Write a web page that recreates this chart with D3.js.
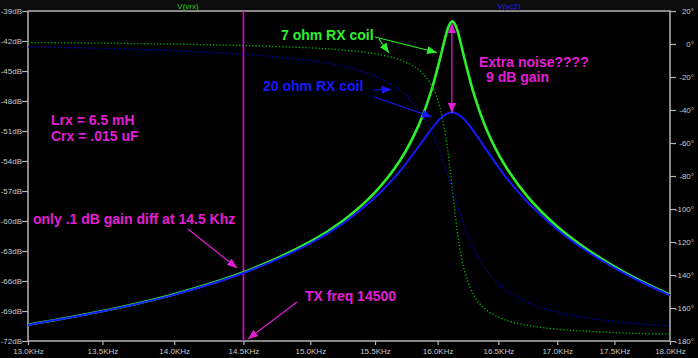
<!DOCTYPE html>
<html>
<head>
<meta charset="utf-8">
<script src="https://cdn.jsdelivr.net/npm/d3@7"></script>
<style>
  html, body { margin: 0; padding: 0; background: #000; }
  svg { display: block; }
</style>
</head>
<body>
<svg id="chart" width="698" height="358"></svg>
<script>
// ---- data ----
const freqs = [13000,13500,14000,14500,15000,15250,15500,15700,15850,15950,16020,16070,16095,16120,16145,16170,16220,16300,16400,16550,16750,17000,17250,17500,17750,18000];
const mag7  = [-70.38,-69.01,-67.32,-65.13,-62.07,-59.97,-57.13,-53.90,-50.34,-46.91,-43.73,-41.28,-40.38,-40.04,-40.41,-41.33,-43.80,-47.42,-50.79,-54.33,-57.61,-60.54,-62.76,-64.55,-66.06,-67.36];
const mag20 = [-70.39,-69.03,-67.36,-65.20,-62.24,-60.24,-57.66,-54.97,-52.50,-50.79,-49.77,-49.31,-49.19,-49.16,-49.21,-49.36,-49.88,-51.11,-52.89,-55.41,-58.16,-60.84,-62.95,-64.68,-66.15,-67.43];
const phase7  = [0.89,0.48,-0.08,-0.91,-2.36,-3.66,-5.96,-9.67,-15.79,-24.96,-38.88,-58.08,-72.09,-88.36,-104.61,-118.58,-137.68,-152.80,-161.25,-167.02,-170.58,-172.81,-174.08,-174.91,-175.50,-175.94];
const phase20 = [-1.71,-2.69,-4.06,-6.19,-10.05,-13.50,-19.42,-28.21,-40.29,-53.42,-66.09,-76.80,-82.53,-88.36,-94.19,-99.89,-110.52,-124.55,-136.98,-148.44,-156.86,-162.57,-165.94,-168.14,-169.71,-170.87];

const freqTicks = [13000,13500,14000,14500,15000,15500,16000,16500,17000,17500,18000];
const freqTickLabels = ["13.0KHz","13.5KHz","14.0KHz","14.5KHz","15.0KHz","15.5KHz","16.0KHz","16.5KHz","17.0KHz","17.5KHz","18.0KHz"];
const dbTicks = [-39,-42,-45,-48,-51,-54,-57,-60,-63,-66,-69,-72];
const degTicks = [20,0,-20,-40,-60,-80,-100,-120,-140,-160,-180];
const txFreq = 14500;
const peakFreq = 16120;

// ---- layout ----
const L = 28, R = 670, T = 11, B = 341;
const svg = d3.select("#chart");
const x = d3.scaleLog().domain([13000, 18000]).range([L, R]);
const yL = d3.scaleLinear().domain([-72, -39]).range([B, T]);
const yR = d3.scaleLinear().domain([-180, 20]).range([B, T]);

const axisColor = "#b4b4b4";
const labelColor = "#c8c8c8";
const magenta = "#e41ed4";
const green = "#2cf02c";
const blue = "#1818ff";

// markers
const defs = svg.append("defs");
function marker(id, color) {
  defs.append("marker")
    .attr("id", id).attr("markerUnits", "userSpaceOnUse")
    .attr("markerWidth", 11).attr("markerHeight", 8)
    .attr("refX", 10).attr("refY", 4)
    .attr("orient", "auto-start-reverse")
    .append("path").attr("d", "M0,0 L10,4 L0,8 Z").attr("fill", color);
}
marker("mg", green); marker("mb", blue); marker("mm", magenta);

// frame
svg.append("rect").attr("x", 0).attr("y", 0).attr("width", 698).attr("height", 10).attr("fill", "#0c0c0c");
svg.append("rect").attr("x", L).attr("y", T).attr("width", R - L).attr("height", B - T)
  .attr("fill", "none").attr("stroke", axisColor).attr("stroke-width", 1.5);

// axes
const fontFam = "'Liberation Sans', Arial, sans-serif";
function styleAxis(g) {
  g.select(".domain").remove();
  g.selectAll(".tick line").attr("stroke", axisColor).attr("stroke-width", 1.2);
  g.selectAll(".tick text").attr("fill", labelColor).attr("font-family", fontFam).attr("font-size", "8px");
}
svg.append("g").attr("transform", `translate(${L},0)`)
  .call(d3.axisLeft(yL).tickValues(dbTicks).tickSize(6).tickPadding(0).tickFormat(d => d + "dB"))
  .call(styleAxis);
svg.append("g").attr("transform", `translate(${R},0)`)
  .call(d3.axisRight(yR).tickValues(degTicks).tickSize(6).tickPadding(1).tickFormat(d => d + "°"))
  .call(styleAxis)
  .call(g => g.selectAll(".tick text").attr("text-anchor", "end").attr("x", 24));
svg.append("g").attr("transform", `translate(0,${B})`)
  .call(d3.axisBottom(x).tickValues(freqTicks).tickSize(4).tickPadding(3).tickFormat((d, i) => freqTickLabels[i]))
  .call(styleAxis);

// trace titles
svg.append("text").attr("x", 188).attr("y", 9).attr("text-anchor", "middle")
  .attr("fill", "#22cc22").attr("font-family", fontFam).attr("font-size", "8px").text("V(vrx)");
svg.append("text").attr("x", 509).attr("y", 9).attr("text-anchor", "middle")
  .attr("fill", "#2020ee").attr("font-family", fontFam).attr("font-size", "8px").text("V(vc2)");

// traces
const plot = svg.append("g");
function trace(vals, yScale, color, width, dash) {
  const line = d3.line()
    .x((d, i) => x(freqs[i]))
    .y(d => yScale(d))
    .curve(d3.curveCatmullRom.alpha(0.5));
  const p = plot.append("path").datum(vals).attr("d", line)
    .attr("fill", "none").attr("stroke", color).attr("stroke-width", width);
  if (dash) p.attr("stroke-dasharray", dash);
}
// TX freq line
plot.append("line").attr("x1", x(txFreq)).attr("x2", x(txFreq))
  .attr("y1", T).attr("y2", B)
  .attr("stroke", "#e000dc").attr("stroke-width", 1.6);

trace(mag7, yL, green, 2.6);
trace(phase7, yR, "#00b400", 1.3, "1.3,2");
trace(mag20, yL, blue, 2);
trace(phase20, yR, "#0000c4", 1.3, "1.3,2");

// annotations
function arrow(x1, y1, x2, y2, color, mk, both) {
  const l = svg.append("line").attr("x1", x1).attr("y1", y1).attr("x2", x2).attr("y2", y2)
    .attr("stroke", color).attr("stroke-width", 1.2).attr("marker-end", `url(#${mk})`);
  if (both) l.attr("marker-start", `url(#${mk})`);
}
function label(tx, ty, str, color) {
  svg.append("text").attr("x", tx).attr("y", ty).attr("fill", color)
    .attr("font-family", fontFam).attr("font-weight", "bold").attr("font-size", "14px").text(str);
}
label(281, 40, "7 ohm RX coil", green);
arrow(375, 37, 437, 52.5, green, "mg");
arrow(379, 39, 389, 53, green, "mg");
label(263, 90.5, "20 ohm RX coil", blue);
arrow(373, 90, 391.5, 89.5, blue, "mb");
arrow(374, 97, 432, 117, blue, "mb");

arrow(x(peakFreq) - 0.5, yL(-40.2), x(peakFreq) - 0.5, yL(-49.2), magenta, "mm", true);
label(479, 67, "Extra noise????", magenta);
label(486, 81.5, "9 dB gain", magenta);
label(51, 125, "Lrx = 6.5 mH", magenta);
label(51, 140.5, "Crx = .015 uF", magenta);
label(33, 224, "only .1 dB gain diff at 14.5 Khz", magenta);
arrow(188, 229, 237, 268, magenta, "mm");
label(305, 300.5, "TX freq 14500", magenta);
arrow(297, 302, 248, 339, magenta, "mm");
</script>
</body>
</html>
